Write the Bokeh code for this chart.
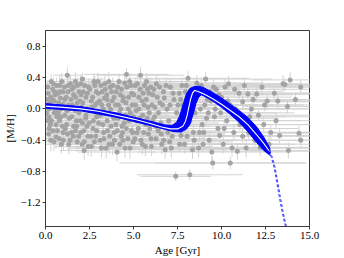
from bokeh.plotting import figure
from bokeh.models import ColumnDataSource, FixedTicker, Range1d
from bokeh.embed import file_html
from bokeh.resources import INLINE

# ---------------- stars ----------------
star_age = [
    0.10, 0.20, 0.30, 0.20, 0.40, 0.50, 0.60, 0.50, 0.70, 0.80,
    0.90, 0.80, 1.00, 1.10, 1.20, 1.24, 1.30, 1.40, 1.50, 1.50,
    1.60, 1.70, 1.80, 1.90, 2.00, 2.10, 2.10, 2.20, 2.30, 2.40,
    2.40, 0.30, 0.90, 1.30, 1.90, 2.20, 0.15, 0.60, 1.00, 1.70,
    2.00, 0.45, 1.10, 1.60, 2.30, 0.35, 0.75, 1.25, 1.80, 2.45,
    0.05, 0.25, 0.55, 0.65, 0.95, 1.15, 1.35, 1.45, 1.75, 1.95,
    2.15, 2.35, 0.40, 0.85, 2.05,
    2.60, 2.70, 2.80, 2.90, 3.00, 3.10, 3.20, 3.30, 3.40, 3.50,
    3.60, 3.70, 3.80, 3.90, 4.00, 4.06, 4.10, 4.20, 4.30, 4.40,
    4.50, 4.60, 4.60, 4.70, 4.80, 4.90, 5.00, 2.60, 3.00, 3.50,
    3.90, 4.40, 2.75, 3.25, 3.75, 4.25, 4.75, 3.45, 2.85, 4.55,
    2.55, 3.15, 3.65, 4.15, 4.85, 3.35, 3.85, 4.35, 2.95, 4.95,
    5.10, 5.20, 5.30, 5.40, 5.50, 5.60, 5.70, 5.80, 5.90, 6.00,
    6.10, 6.20, 6.30, 6.40, 6.50, 6.60, 6.70, 6.80, 6.90, 7.00,
    7.10, 7.20, 7.30, 7.40, 7.45, 5.35, 6.05, 6.55, 7.05, 5.75,
    5.15, 5.55, 6.25, 6.75, 5.85,
    7.60, 7.70, 7.80, 7.90, 8.00, 8.10, 8.20, 8.20, 8.30, 8.40,
    8.50, 8.60, 8.70, 8.80, 8.90, 9.00, 9.10, 9.20, 9.30, 9.40,
    9.50, 9.60, 9.70, 9.80, 9.90, 7.75, 8.45, 9.25, 7.55, 8.65,
    9.05, 9.55,
    10.00, 10.10, 10.20, 10.30, 10.40, 10.50, 10.50, 10.70, 10.90, 11.00,
    11.20, 11.20, 11.50, 11.60, 11.70, 11.90, 12.00, 12.20, 12.30, 12.40,
    10.80, 11.40,
    12.60, 12.80, 13.10, 13.30, 13.50, 13.60, 13.75, 13.80, 13.90, 14.20,
    14.40, 14.50, 14.50, 13.00,
    0.12, 0.18, 0.22, 0.28, 0.32, 0.38, 0.42, 0.48, 0.52, 0.58,
    0.62, 0.68, 0.72, 0.78, 0.82, 0.88, 0.92, 0.98, 1.02, 1.08,
    1.12, 1.18, 1.22, 1.28, 1.32, 1.38, 1.42, 1.48, 1.52, 1.58,
    1.62, 1.68, 1.72, 1.78, 1.82, 1.88, 1.92, 1.98, 2.02, 2.08,
    2.12, 2.18, 2.22, 2.28, 2.32, 2.38, 2.42, 2.48, 0.08, 0.14,
    2.52, 2.58, 2.62, 2.68, 2.72, 2.78, 2.82, 2.88, 2.92, 2.98,
    3.02, 3.08, 3.12, 3.18, 3.22, 3.28, 3.32, 3.38, 3.42, 3.48,
    3.52, 3.58, 3.62, 3.68, 3.72, 3.78, 3.82, 3.88, 3.92, 3.98,
    4.02, 4.08, 4.12, 4.18, 4.22, 4.28, 4.32, 4.38, 4.42, 4.48,
    4.52, 4.58, 4.62, 4.68, 4.72, 4.78, 4.82, 4.88, 4.92, 4.98,
    5.02, 5.08, 5.12, 5.18, 5.22, 5.28, 5.32, 5.38, 5.42, 5.48,
    5.52, 5.58, 5.62, 5.68, 5.72, 5.78, 5.82, 5.88, 5.92, 5.98,
    6.02, 6.08, 6.15, 6.22, 6.28, 6.35, 6.42, 6.48, 6.58, 6.65,
    6.72, 6.85, 6.95, 7.08, 7.15, 7.25, 7.35,
    7.52, 7.62, 7.68, 7.85, 7.95, 8.05, 8.15, 8.35, 8.55, 8.75,
    8.85, 8.95, 9.15, 9.35, 9.45, 9.65, 9.85, 9.95, 10.15, 10.35,
    10.60, 10.75, 11.05, 11.30, 11.55, 11.80, 12.10, 12.45, 12.70, 13.20,
]
star_mh = [
    0.05, -0.10, 0.15, -0.25, 0.25, -0.05, -0.36, 0.10, 0.20, -0.15,
    0.00, 0.30, -0.30, 0.12, -0.20, 0.43, 0.05, -0.40, 0.25, -0.10,
    0.18, -0.28, 0.08, -0.05, 0.32, 0.38, -0.18, -0.53, 0.15, -0.35,
    0.00, -0.40, -0.45, 0.30, 0.22, -0.42, 0.20, -0.20, 0.22, 0.35,
    -0.30, 0.32, -0.08, -0.22, -0.08, -0.15, 0.08, -0.32, -0.42, 0.28,
    -0.05, 0.08, 0.18, -0.10, -0.22, 0.02, -0.12, 0.12, -0.15, 0.10,
    0.22, -0.22, 0.02, 0.14, 0.02,
    0.10, -0.25, 0.30, -0.10, 0.20, -0.40, 0.05, -0.30, 0.25, -0.15,
    0.35, 0.00, -0.45, 0.15, -0.20, -0.55, 0.28, -0.05, -0.35, 0.10,
    0.33, 0.44, -0.25, 0.00, -0.50, 0.20, -0.10, -0.48, -0.05, 0.12,
    -0.30, -0.40, 0.35, -0.20, 0.22, 0.18, -0.15, -0.50, -0.35, -0.08,
    -0.02, 0.30, -0.35, 0.05, 0.30, 0.14, -0.08, -0.22, 0.08, -0.30,
    0.30, -0.30, 0.15, 0.43, -0.45, 0.05, -0.20, 0.25, -0.05, -0.38,
    0.18, -0.10, 0.32, -0.28, 0.08, -0.45, 0.22, -0.52, 0.00, -0.15,
    0.28, -0.35, 0.12, -0.86, -0.05, -0.12, 0.05, -0.18, -0.42, 0.35,
    -0.02, 0.20, -0.22, 0.14, -0.32,
    0.20, -0.34, 0.05, -0.45, 0.30, 0.39, -0.84, -0.15, 0.15, -0.30,
    -0.05, 0.33, -0.50, 0.00, -0.20, -0.30, 0.38, 0.12, -0.40, 0.10,
    -0.69, -0.10, 0.25, -0.25, -0.34, 0.30, -0.40, -0.05, -0.22, 0.18,
    0.05, 0.28,
    0.15, -0.45, 0.28, -0.15, 0.32, -0.69, 0.05, -0.30, -0.54, 0.20,
    0.09, -0.35, 0.19, -0.10, 0.00, -0.40, 0.19, -0.49, 0.28, -0.20,
    0.00, -0.50,
    0.10, -0.30, -0.15, -0.34, 0.32, 0.31, 0.03, -0.53, 0.37, 0.12,
    -0.31, -0.40, 0.28, 0.20,
    0.28, -0.32, 0.00, -0.20, 0.35, 0.12, -0.28, -0.42, 0.22, 0.00,
    0.30, -0.28, -0.05, -0.38, 0.22, -0.10, 0.35, 0.06, -0.40, 0.28,
    -0.25, 0.15, -0.02, 0.22, -0.45, 0.00, 0.32, -0.30, 0.05, -0.35,
    0.28, -0.02, 0.15, -0.22, 0.30, -0.35, 0.00, -0.15, 0.18, -0.45,
    0.08, -0.28, 0.30, -0.12, 0.00, 0.20, -0.48, -0.18, 0.12, -0.15,
    0.25, -0.35, 0.02, 0.15, -0.15, -0.42, 0.05, 0.22, -0.28, 0.35,
    -0.18, 0.10, -0.08, -0.50, 0.22, 0.00, -0.38, 0.32, -0.05, 0.18,
    -0.28, 0.05, -0.45, 0.28, -0.22, 0.10, 0.30, -0.12, -0.40, 0.05,
    0.22, -0.28, -0.12, 0.35, -0.45, 0.00, 0.25, -0.30, 0.15, -0.18,
    -0.50, 0.08, 0.28, -0.38, 0.15, 0.35, -0.05, -0.28, 0.05, -0.42,
    0.18, -0.38, 0.05, -0.15, 0.32, -0.25, 0.00, 0.25, -0.40, 0.10,
    -0.08, -0.30, 0.30, -0.48, 0.12, -0.12, 0.02, 0.20, -0.25, 0.28,
    -0.48, -0.15, 0.25, 0.02, -0.38, 0.15, -0.05, 0.28, -0.32, 0.05,
    -0.40, 0.30, -0.30, 0.05, -0.50, 0.20, -0.25,
    0.05, -0.45, 0.12, -0.10, 0.22, -0.35, 0.05, -0.52, 0.25, -0.30,
    0.30, -0.45, -0.12, 0.22, -0.55, 0.00, 0.18, -0.05, -0.25, 0.10,
    -0.50, 0.25, -0.20, 0.30, -0.30, 0.12, -0.08, 0.05, -0.45, 0.10,
]
star_age_err = [
    0.3, 0.4, 0.5, 0.4, 0.6, 0.5, 0.8, 0.7, 0.9, 0.6,
    1.0, 0.7, 1.2, 0.9, 1.1, 0.8, 1.0, 1.3, 1.2, 0.9,
    1.4, 1.0, 1.5, 1.1, 1.6, 1.3, 1.2, 1.4, 1.7, 1.3,
    1.5, 0.6, 1.0, 1.2, 1.4, 1.6, 0.3, 0.7, 0.8, 1.3,
    1.5, 0.5, 0.9, 1.2, 1.6, 0.5, 0.8, 1.0, 1.4, 1.8,
    0.2, 0.4, 0.6, 0.6, 0.9, 1.0, 1.1, 1.2, 1.3, 1.4,
    1.5, 1.6, 0.5, 0.8, 1.5,
    1.5, 1.8, 1.6, 1.7, 2.0, 1.8, 1.9, 2.1, 1.7, 2.0,
    2.2, 1.9, 2.3, 2.0, 2.4, 2.2, 2.1, 2.5, 2.3, 2.2,
    2.6, 2.4, 2.3, 2.5, 2.7, 2.4, 2.6, 1.6, 1.8, 2.0,
    2.2, 2.4, 1.7, 1.9, 2.1, 2.3, 2.5, 2.0, 1.8, 2.4,
    1.6, 1.9, 2.1, 2.2, 2.5, 1.9, 2.1, 2.3, 1.7, 2.6,
    2.6, 2.8, 2.7, 2.5, 3.0, 2.8, 2.9, 3.0, 2.8, 3.1,
    3.0, 3.2, 3.0, 3.3, 3.1, 3.4, 3.2, 3.5, 3.3, 3.4,
    3.3, 3.6, 3.4, 2.0, 3.5, 2.7, 3.0, 3.2, 3.5, 2.9,
    2.6, 2.8, 3.1, 3.3, 3.0,
    3.5, 3.6, 3.5, 3.7, 3.6, 3.5, 3.0, 3.7, 3.6, 3.8,
    3.7, 3.8, 3.9, 3.8, 3.9, 4.0, 3.8, 3.9, 4.0, 3.9,
    5.3, 4.0, 3.9, 4.1, 4.0, 3.5, 3.8, 3.9, 3.5, 3.8,
    3.9, 4.0,
    4.0, 4.1, 4.0, 4.2, 4.1, 4.3, 4.2, 4.3, 4.2, 4.3,
    4.0, 4.2, 4.0, 4.1, 4.0, 4.1, 3.8, 3.9, 3.8, 3.7,
    4.2, 4.0,
    3.6, 3.5, 3.2, 3.0, 2.8, 2.6, 2.5, 2.4, 2.2, 2.0,
    1.8, 1.6, 1.5, 3.2,
    0.3, 0.4, 0.3, 0.4, 0.5, 0.5, 0.5, 0.6, 0.6, 0.6,
    0.7, 0.7, 0.8, 0.8, 0.8, 0.9, 0.9, 1.0, 1.0, 1.0,
    1.1, 1.1, 1.1, 1.2, 1.2, 1.2, 1.3, 1.3, 1.3, 1.4,
    1.4, 1.4, 1.5, 1.5, 1.5, 1.5, 1.6, 1.6, 1.6, 1.7,
    1.7, 1.7, 1.7, 1.8, 1.8, 1.8, 1.9, 1.9, 0.2, 0.3,
    1.6, 1.6, 1.7, 1.7, 1.7, 1.8, 1.8, 1.8, 1.9, 1.9,
    1.9, 2.0, 2.0, 2.0, 2.0, 2.1, 2.1, 2.1, 2.1, 2.2,
    2.2, 2.2, 2.3, 2.3, 2.3, 2.3, 2.4, 2.4, 2.4, 2.4,
    2.5, 2.5, 2.5, 2.5, 2.6, 2.6, 2.6, 2.6, 2.7, 2.7,
    2.7, 2.7, 2.8, 2.8, 2.8, 2.8, 2.9, 2.9, 2.9, 2.9,
    2.9, 3.0, 3.0, 3.0, 3.0, 3.1, 3.1, 3.1, 3.1, 3.2,
    3.2, 3.2, 3.2, 3.3, 3.3, 3.3, 3.3, 3.4, 3.4, 3.4,
    3.4, 3.5, 3.5, 3.5, 3.5, 3.6, 3.6, 3.6, 3.6, 3.7,
    3.7, 3.7, 3.7, 3.8, 3.8, 3.8, 3.8,
    3.8, 3.8, 3.9, 3.9, 3.9, 3.9, 4.0, 4.0, 4.0, 4.0,
    4.1, 4.1, 4.1, 4.1, 4.2, 4.2, 4.2, 4.2, 4.2, 4.2,
    4.2, 4.2, 4.1, 4.0, 4.0, 3.9, 3.8, 3.7, 3.5, 3.0,
]
star_mh_err = [
    0.08, 0.10, 0.06, 0.12, 0.10, 0.07, 0.15, 0.05, 0.09, 0.08,
    0.06, 0.12, 0.10, 0.07, 0.09, 0.10, 0.05, 0.14, 0.08, 0.06,
    0.10, 0.11, 0.07, 0.09, 0.12, 0.08, 0.10, 0.12, 0.06, 0.13,
    0.08, 0.14, 0.12, 0.10, 0.09, 0.11, 0.10, 0.07, 0.09, 0.12,
    0.10, 0.08, 0.06, 0.08, 0.07, 0.09, 0.05, 0.11, 0.13, 0.10,
    0.08, 0.06, 0.07, 0.08, 0.10, 0.06, 0.07, 0.08, 0.07, 0.06,
    0.08, 0.09, 0.05, 0.07, 0.06,
    0.07, 0.10, 0.12, 0.08, 0.09, 0.13, 0.06, 0.11, 0.10, 0.08,
    0.12, 0.07, 0.14, 0.08, 0.09, 0.12, 0.10, 0.07, 0.11, 0.08,
    0.11, 0.08, 0.10, 0.06, 0.13, 0.09, 0.07, 0.13, 0.06, 0.07,
    0.10, 0.12, 0.10, 0.08, 0.09, 0.08, 0.07, 0.13, 0.11, 0.07,
    0.06, 0.10, 0.11, 0.06, 0.10, 0.07, 0.07, 0.09, 0.06, 0.10,
    0.10, 0.11, 0.08, 0.10, 0.13, 0.07, 0.09, 0.10, 0.07, 0.12,
    0.08, 0.07, 0.11, 0.10, 0.07, 0.13, 0.09, 0.12, 0.07, 0.08,
    0.10, 0.11, 0.08, 0.06, 0.07, 0.07, 0.06, 0.08, 0.12, 0.11,
    0.06, 0.08, 0.09, 0.08, 0.10,
    0.09, 0.10, 0.07, 0.12, 0.10, 0.09, 0.07, 0.08, 0.08, 0.10,
    0.07, 0.10, 0.12, 0.07, 0.08, 0.10, 0.09, 0.07, 0.11, 0.07,
    0.08, 0.08, 0.09, 0.09, 0.10, 0.10, 0.11, 0.07, 0.09, 0.08,
    0.07, 0.10,
    0.08, 0.12, 0.10, 0.08, 0.10, 0.08, 0.07, 0.10, 0.11, 0.09,
    0.08, 0.10, 0.09, 0.08, 0.07, 0.11, 0.09, 0.11, 0.10, 0.09,
    0.07, 0.12,
    0.09, 0.10, 0.09, 0.10, 0.11, 0.08, 0.09, 0.10, 0.10, 0.09,
    0.10, 0.09, 0.10, 0.09,
    0.08, 0.10, 0.06, 0.08, 0.09, 0.06, 0.10, 0.12, 0.08, 0.05,
    0.10, 0.09, 0.06, 0.12, 0.07, 0.07, 0.11, 0.06, 0.13, 0.09,
    0.08, 0.07, 0.06, 0.08, 0.13, 0.06, 0.10, 0.10, 0.06, 0.11,
    0.09, 0.06, 0.07, 0.08, 0.10, 0.11, 0.06, 0.07, 0.08, 0.12,
    0.06, 0.09, 0.10, 0.07, 0.06, 0.08, 0.12, 0.08, 0.06, 0.08,
    0.09, 0.10, 0.06, 0.07, 0.08, 0.12, 0.06, 0.08, 0.09, 0.11,
    0.08, 0.06, 0.07, 0.12, 0.08, 0.06, 0.11, 0.10, 0.06, 0.08,
    0.09, 0.06, 0.12, 0.09, 0.08, 0.06, 0.10, 0.07, 0.11, 0.06,
    0.08, 0.09, 0.07, 0.10, 0.12, 0.06, 0.09, 0.10, 0.07, 0.08,
    0.12, 0.06, 0.09, 0.11, 0.07, 0.10, 0.06, 0.09, 0.06, 0.11,
    0.08, 0.11, 0.06, 0.07, 0.10, 0.09, 0.06, 0.09, 0.11, 0.07,
    0.06, 0.10, 0.09, 0.12, 0.07, 0.07, 0.06, 0.08, 0.09, 0.10,
    0.12, 0.07, 0.09, 0.06, 0.11, 0.07, 0.06, 0.10, 0.10, 0.06,
    0.11, 0.10, 0.09, 0.06, 0.12, 0.08, 0.09,
    0.07, 0.11, 0.07, 0.07, 0.09, 0.10, 0.06, 0.12, 0.09, 0.10,
    0.10, 0.11, 0.07, 0.09, 0.11, 0.07, 0.08, 0.07, 0.09, 0.07,
    0.11, 0.09, 0.08, 0.10, 0.09, 0.08, 0.07, 0.08, 0.11, 0.09,
]

# ---------------- model track (central curve and band edges) ----------------
model_age = [0.0, 1.0, 2.0, 3.0, 4.0, 5.0, 6.0, 6.6, 7.1, 7.5, 7.8, 7.95, 8.05,
             8.15, 8.25, 8.35, 8.48, 8.7, 9.0, 9.5, 10.0, 10.5, 11.0, 11.5, 12.0,
             12.4, 12.75]
model_mh = [0.035, 0.02, 0.0, -0.03, -0.08, -0.13, -0.19, -0.23, -0.255, -0.255,
            -0.22, -0.16, -0.08, 0.03, 0.13, 0.2, 0.235, 0.22, 0.19, 0.13, 0.06,
            -0.02, -0.1, -0.2, -0.33, -0.44, -0.55]

band_top_age = [0.0, 2.0, 4.0, 6.0, 6.8, 7.2, 7.45, 7.6, 7.72, 7.85, 8.0, 8.2,
                8.45, 8.7, 9.0, 9.5, 10.0, 10.5, 11.0, 11.5, 12.0, 12.4, 12.75]
band_top_mh = [0.068, 0.03, -0.05, -0.16, -0.205, -0.21, -0.17, -0.1, -0.02,
               0.08, 0.19, 0.26, 0.285, 0.29, 0.27, 0.21, 0.14, 0.06, -0.02,
               -0.11, -0.23, -0.36, -0.5]
band_bot_age = [0.0, 2.0, 4.0, 6.0, 6.8, 7.3, 7.7, 8.0, 8.2, 8.4, 8.55, 8.7,
                8.85, 9.0, 9.5, 10.0, 10.5, 11.0, 11.5, 12.0, 12.4, 12.75]
band_bot_mh = [0.008, -0.025, -0.105, -0.215, -0.262, -0.29, -0.295, -0.26, -0.2,
               -0.06, 0.07, 0.15, 0.18, 0.165, 0.1, 0.02, -0.07, -0.17, -0.29,
               -0.43, -0.53, -0.59]

dash_a_age = [12.68, 12.83, 12.98, 13.13, 13.28, 13.43, 13.58, 13.64]
dash_b_age = [12.74, 12.89, 13.04, 13.19, 13.34, 13.49, 13.63, 13.69]
dash_mh = [-0.53, -0.62, -0.74, -0.92, -1.12, -1.3, -1.45, -1.5]

x_ticks = [0.0, 2.5, 5.0, 7.5, 10.0, 12.5, 15.0]
x_tick_labels = ["0.0", "2.5", "5.0", "7.5", "10.0", "12.5", "15.0"]
y_ticks = [0.8, 0.4, 0.0, -0.4, -0.8, -1.2]
y_tick_labels = ["0.8", "0.4", "0.0", "\u22120.4", "\u22120.8", "\u22121.2"]

FONT = "'Liberation Serif', 'Times New Roman', serif"
AX = "#3a3a3a"

p = figure(width=344, height=258, output_backend="svg", toolbar_location=None,
           x_range=Range1d(0, 15), y_range=Range1d(-1.5, 1.0),
           min_border_left=43, min_border_right=35, min_border_top=30,
           min_border_bottom=28, background_fill_color="white",
           border_fill_color="white")

src = ColumnDataSource(dict(
    age=star_age, mh=star_mh,
    x0=[a - e for a, e in zip(star_age, star_age_err)],
    x1=[a + e for a, e in zip(star_age, star_age_err)],
    y0=[m - e for m, e in zip(star_mh, star_mh_err)],
    y1=[m + e for m, e in zip(star_mh, star_mh_err)],
))

p.segment(x0="x0", y0="mh", x1="x1", y1="mh", source=src, line_color="#d3d3d3", line_width=1)
p.segment(x0="age", y0="y0", x1="age", y1="y1", source=src, line_color="#d3d3d3", line_width=1)
p.scatter(x="age", y="mh", source=src, size=5, fill_color="#a3a3a3", line_color=None)

poly_x = band_top_age + band_bot_age[::-1]
poly_y = band_top_mh + band_bot_mh[::-1]
p.patch(poly_x, poly_y, fill_color="#0000ff", line_color="#0000ff", line_width=1)
p.line(model_age, model_mh, line_color="white", line_width=1.1)

p.line(dash_a_age, dash_mh, line_color="#0000ff", line_width=1, line_dash="3 2", line_alpha=0.75)
p.line(dash_b_age, dash_mh, line_color="#0000ff", line_width=1, line_dash="3 2", line_alpha=0.75)

p.xgrid.visible = False
p.ygrid.visible = False
p.outline_line_color = AX
p.outline_line_width = 1

p.xaxis.ticker = FixedTicker(ticks=x_ticks)
p.xaxis.major_label_overrides = {t: l for t, l in zip(x_ticks, x_tick_labels)}
p.yaxis.ticker = FixedTicker(ticks=y_ticks)
p.yaxis.major_label_overrides = {t: l for t, l in zip(y_ticks, y_tick_labels)}
p.xaxis.axis_label = "Age [Gyr]"
p.yaxis.axis_label = "[M/H]"

for ax in (p.xaxis, p.yaxis):
    ax.axis_line_color = AX
    ax.major_tick_line_color = AX
    ax.minor_tick_line_color = None
    ax.major_tick_in = 0
    ax.major_tick_out = 3
    ax.major_label_standoff = 2
    ax.major_label_text_font = FONT
    ax.major_label_text_font_size = "11px"
    ax.major_label_text_color = "black"
    ax.axis_label_standoff = 2
    ax.axis_label_text_font = FONT
    ax.axis_label_text_font_size = "11px"
    ax.axis_label_text_font_style = "normal"
    ax.axis_label_text_color = "black"

open("out.html", "w").write(file_html(p, INLINE))
